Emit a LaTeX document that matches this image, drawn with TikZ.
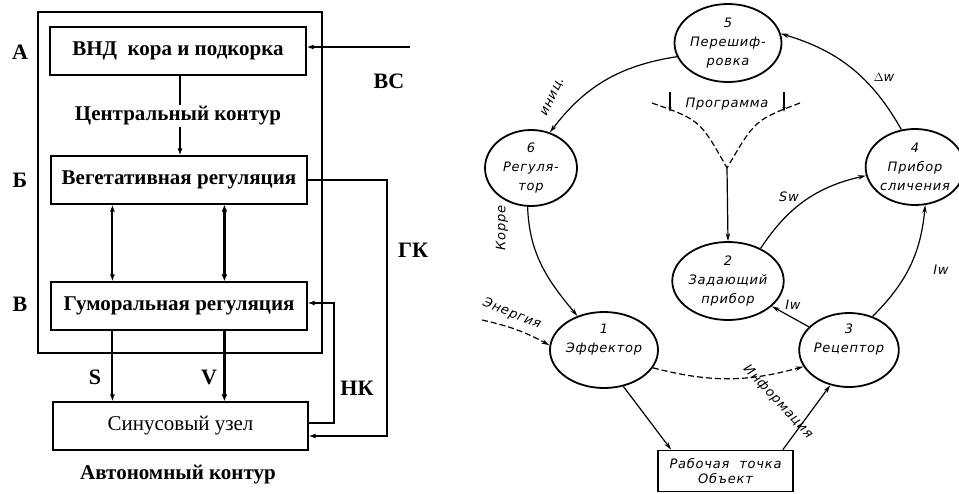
\documentclass[tikz,border=0pt]{standalone}
\usepackage{fontspec}
\setmainfont{Liberation Serif}
\newfontfamily\dfont{DejaVu Sans}[LetterSpace=6]
\usetikzlibrary{shapes.geometric,arrows.meta,calc}
\begin{document}
\begin{tikzpicture}[x=1pt,y=-1pt,
  box/.style={draw, line width=1.2pt, minimum width=256pt, minimum height=48pt, inner sep=0pt, font=\bfseries\fontsize{21}{23}\selectfont},
  lab/.style={inner sep=0pt, font=\bfseries\fontsize{22}{24}\selectfont},
  larr/.style={line width=2pt, -{Latex[length=7pt,width=5pt]}},
  lbarr/.style={line width=3pt, -{Latex[length=7pt,width=6pt]}},
  ldarr/.style={line width=2pt, {Latex[length=7pt,width=5pt]}-{Latex[length=7pt,width=5pt]}},
  lbdarr/.style={line width=3pt, {Latex[length=7pt,width=6pt]}-{Latex[length=7pt,width=6pt]}},
  ell/.style={ellipse, draw, line width=1.8pt, inner sep=0pt, align=center, font=\dfont\itshape\fontsize{13}{19}\selectfont},
  dlab/.style={inner sep=1pt, font=\dfont\itshape\fontsize{13}{15}\selectfont},
  rarr/.style={line width=1.2pt, -{Stealth[length=8pt,width=4.5pt]}},
  rdash/.style={line width=1.2pt, dash pattern=on 6pt off 3pt, -{Stealth[length=8pt,width=4.5pt]}}
]
\useasboundingbox[fill=white] (0,0) rectangle (959,493);

% ---------------- left diagram ----------------
\node[draw, line width=1.2pt, minimum width=284pt, minimum height=341pt, inner sep=0pt] (outer) at (180,182.5) {};
\node[box] (A) at (178,51) {ВНД\ \ кора и подкорка};
\node[box] (B) at (179,180) {Вегетативная регуляция};
\node[box] (C) at (179,306) {Гуморальная регуляция};
\node[box, minimum width=255pt, font=\fontsize{21}{23}\selectfont] (D) at (180.5,426) {Синусовый узел};

\node[lab] (la) at (20,52) {А};
\node[lab] (lb) at (20,180) {Б};
\node[lab] (lc) at (20,304) {В};

\coordinate (vsin) at (410,47);
\draw[larr] (vsin) -- (vsin -| A.east);
\node[lab] (vs) at (389,81) {ВС};

\draw[larr] ([xshift=2pt]A.south) -- ([xshift=1pt]B.north);
\node[lab, fill=white, inner sep=2pt, font=\bfseries\fontsize{21}{23}\selectfont] (cc) at (178,116) {Центральный контур};

\draw[ldarr] ([xshift=62pt]B.south west) -- ([xshift=62pt]C.north west);
\draw[lbdarr] ([xshift=174pt]B.south west) -- ([xshift=174pt]C.north west);

\draw[larr] ([xshift=62pt]C.south west) -- ([xshift=60pt]D.north west);
\draw[lbarr] ([xshift=174pt]C.south west) -- ([xshift=172pt]D.north west);
\node[lab] (ls) at (95,377) {S};
\node[lab] (lv) at (209,377) {V};

\draw[larr] (B.east) -- ++(79,0) coordinate (gk) |- ([yshift=-10pt]D.east);
\node[lab] (lgk) at (413,250) {ГК};

\draw[larr] ([yshift=3pt]D.east) -- ++(25,0) |- ([yshift=3pt]C.east);
\node[lab] (lnk) at (357,388) {НК};

\node[lab, font=\bfseries\fontsize{21}{23}\selectfont] (auto) at (178,475) {Автономный контур};

% ---------------- right diagram ----------------
\node[ell, minimum width=94pt, minimum height=78pt] (e5) at (728,43) {5\\Перешиф-\\ровка};
\node[ell, minimum width=92pt, minimum height=76pt] (e6) at (531,168) {6\\Регуля-\\тор};
\node[ell, minimum width=86pt, minimum height=76pt] (e4) at (915,167) {4\\Прибор\\сличения};
\node[ell, minimum width=92pt, minimum height=78pt] (e2) at (728,281) {2\\Задающий\\прибор};
\node[ell, minimum width=94pt, minimum height=76pt] (e1) at (604,350) {1\\Эффектор\\[4pt]};
\node[ell, minimum width=94pt, minimum height=74pt] (e3) at (849,350) {3\\Рецептор\\[4pt]};
\node[draw, line width=1.8pt, minimum width=135pt, minimum height=41pt, inner sep=0pt, align=center,
      font=\dfont\itshape\fontsize{13}{15}\selectfont] (obj) at (725.5,471) {Рабочая\ \ точка\\Объект};

% 5 -> 6
\draw[rarr] (e5.195) to[bend right=22] (e6.62);
\node[dlab, rotate=65] (lin) at (553,97) {иниц.};
% 4 -> 5
\draw[rarr] (e4.110) to[bend right=22] (e5.10);
\node[dlab] (ldw) at (884,77) {$\Delta$w};
% 6 -> 1
\draw[rarr] (e6.265) to[out=-88,in=130] (e1.128);
\node[dlab, rotate=90] (lkor) at (502,228) {Корре};
% program
\coordinate (pj) at (727,168);
\coordinate (pl) at (652,103);
\coordinate (pr) at (800,103);
\draw[line width=1.2pt, dash pattern=on 6pt off 3pt] (pl) .. controls (700,120) .. (pj);
\draw[line width=1.2pt, dash pattern=on 6pt off 3pt] (pr) .. controls (755,120) .. (pj);
\coordinate (pa1) at (670,92);
\coordinate (pa2) at (784,92);
\draw[line width=1.2pt, -{Stealth[length=5pt,width=3pt]}] (pa1) -- ++(0,20);
\draw[line width=1.2pt, -{Stealth[length=5pt,width=3pt]}] (pa2) -- ++(0,20);
\node[dlab] (lprog) at (727,104) {Программа};
\draw[rarr] (pj) -- (e2.north);
% 2 -> 4 Sw
\draw[rarr] (e2.45) to[bend left=22] (e4.190);
\node[dlab] (lsw) at (789,197) {Sw};
% 3 -> 4 Iw
\draw[rarr] (e3.55) to[bend right=20] (e4.-75);
\node[dlab] (liw1) at (941,270) {Iw};
% 3 -> 2 Iw
\draw[rarr] (e3.150) -- (e2.-30);
\node[dlab] (liw2) at (793,305) {Iw};
% energy
\coordinate (en) at (482,320);
\draw[rdash] (en) to[bend left=8] (e1.175);
\node[dlab, rotate=-22] (len) at (512,314) {Энергия};
% 1 -> 3 information
\draw[rdash] (e1.-20) to[bend right=15] (e3.-160);
% 1 -> obj
\draw[rarr] (e1.-62) -- ([xshift=14pt]obj.north west);
% obj -> 3
\draw[rarr] ([xshift=-11pt]obj.north east) -- (e3.-118);
\node[dlab, rotate=-47] (linf) at (778,402) {Информация};
\end{tikzpicture}
\end{document}
